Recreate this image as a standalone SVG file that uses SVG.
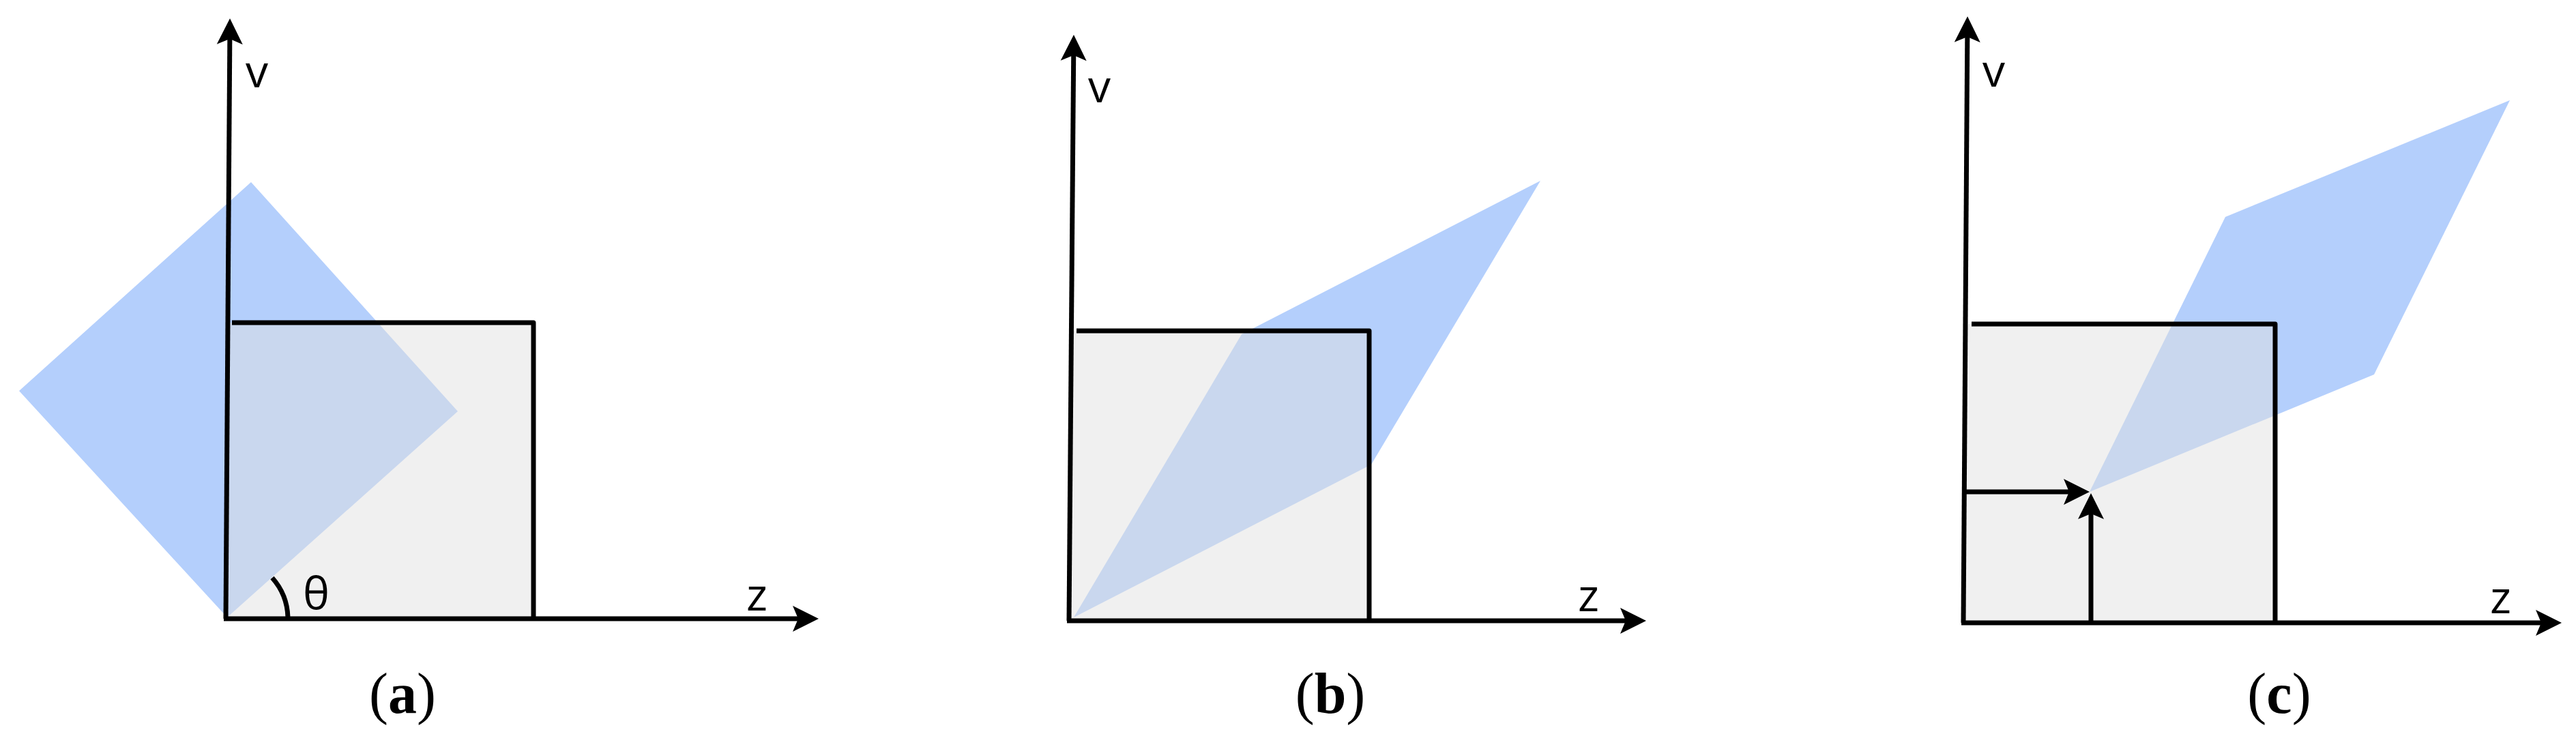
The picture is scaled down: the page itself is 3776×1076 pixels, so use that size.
<svg xmlns="http://www.w3.org/2000/svg" width="3776" height="1076" viewBox="0 0 3776 1076">
<style>
.blue{fill:#b4cffc;stroke:none}
.sq{fill:#dfdfdf;fill-opacity:0.48;stroke:none}
.ln{fill:none;stroke:#000;stroke-width:7;stroke-linejoin:round;stroke-linecap:butt}
.ax{fill:none;stroke:#000;stroke-width:7;marker-end:url(#ah)}
.lbl{font-family:"Open Sans","DejaVu Sans",sans-serif;font-size:66px;fill:#000}
.cap{font-family:"Liberation Serif","Times New Roman",serif;font-size:84px;fill:#000;text-anchor:middle}
</style>
<defs>
<marker id="ah" viewBox="0 0 40 40" refX="20" refY="20" markerWidth="40" markerHeight="40" markerUnits="userSpaceOnUse" orient="auto">
<path d="M2,1 L40,20 L2,39 L10,20 Z" fill="#000"/>
</marker>
</defs>
<rect width="3776" height="1076" fill="#fff"/>

<g id="panel-a">
<polygon class="blue" points="368,267 671,603 333,905 28,573"/>
<rect class="sq" x="331" y="473" width="451" height="434"/>
<polyline class="ln" points="340,473 782,473 782,907"/>
<path class="ln" d="M422,905 A91,91 0 0 0 399,847"/>
<text class="lbl" x="444" y="893">θ</text>
<text class="lbl" x="360" y="128">v</text>
<text class="lbl" x="1094" y="895">z</text>
<text class="cap" x="590" y="1045">(<tspan font-weight="bold">a</tspan>)</text>
</g>

<g id="panel-b">
<polygon class="blue" points="1574,905 1820,490 2258,265 2010,681"/>
<rect class="sq" x="1567" y="485" width="440" height="425"/>
<polyline class="ln" points="1578,485 2007,485 2007,910"/>
<text class="lbl" x="1595" y="150">v</text>
<text class="lbl" x="2313" y="896">z</text>
<text class="cap" x="1950" y="1045">(<tspan font-weight="bold">b</tspan>)</text>
</g>

<g id="panel-c">
<polygon class="blue" points="3063,721 3262,318 3679,147 3480,549"/>
<rect class="sq" x="2880" y="475" width="455" height="438"/>
<polyline class="ln" points="2890,475 3335,475 3335,913"/>
<text class="lbl" x="2906" y="127">v</text>
<text class="lbl" x="3650" y="899">z</text>
<text class="cap" x="3341" y="1045">(<tspan font-weight="bold">c</tspan>)</text>
</g>

<g id="connectors">
<line class="ax" x1="331" y1="907" x2="336.9" y2="47"/>
<line class="ax" x1="328" y1="907" x2="1180" y2="907"/>
<line class="ax" x1="1567" y1="910" x2="1573.8" y2="71"/>
<line class="ax" x1="1564" y1="910" x2="2393" y2="910"/>
<line class="ax" x1="2878" y1="913" x2="2883.9" y2="44"/>
<line class="ax" x1="2875" y1="913" x2="3735" y2="913"/>
<line class="ax" x1="2880" y1="721" x2="3043" y2="721"/>
<line class="ax" x1="3065" y1="913" x2="3065" y2="743"/>
</g>
</svg>
